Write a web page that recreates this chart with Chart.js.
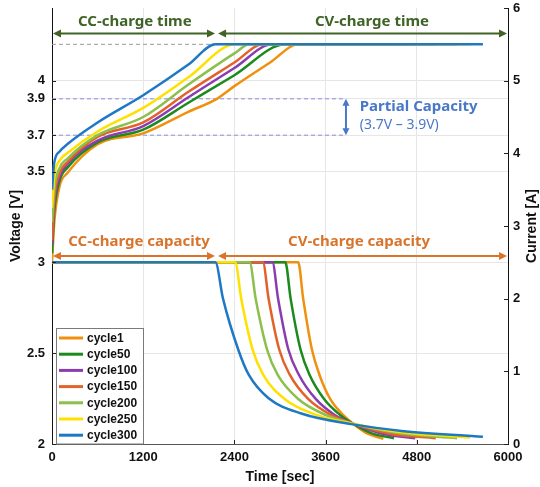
<!DOCTYPE html>
<html>
<head>
<meta charset="utf-8">
<script src="https://cdn.jsdelivr.net/npm/chart.js@4.4.1/dist/chart.umd.min.js"></script>
<style>
  html, body { margin: 0; padding: 0; background: #fff; }
  #wrap { width: 540px; height: 487px; }
</style>
</head>
<body>
<div id="wrap"><canvas id="chart" width="540" height="487"></canvas></div>
<script>
// cycles, legend order
const cycleLabels = ['cycle1', 'cycle50', 'cycle100', 'cycle150', 'cycle200', 'cycle250', 'cycle300'];
const cycleColors = ['#F0900F', '#1C8A1C', '#8B3DAF', '#E2622A', '#8CBF4C', '#FFE100', '#1F78C4'];

// voltage [V] vs time [sec]
const voltCycle1   = [[0,3.00],[30,3.22],[100,3.42],[200,3.49],[600,3.65],[1200,3.71],[1800,3.83],[2170,3.90],[2400,3.97],[2870,4.10],[3240,4.20],[4360,4.20]];
const voltCycle50  = [[0,3.05],[30,3.28],[100,3.45],[200,3.52],[600,3.66],[1200,3.73],[1800,3.88],[2400,4.03],[3070,4.20],[4500,4.20]];
const voltCycle100 = [[0,3.10],[30,3.32],[100,3.47],[200,3.54],[600,3.67],[1200,3.75],[1800,3.91],[2400,4.07],[2900,4.20],[4780,4.20]];
const voltCycle150 = [[0,3.12],[30,3.35],[100,3.49],[200,3.55],[600,3.69],[1200,3.77],[1800,3.94],[2400,4.10],[2775,4.20],[5050,4.20]];
const voltCycle200 = [[0,3.22],[30,3.40],[100,3.52],[200,3.57],[600,3.70],[1200,3.80],[1800,3.98],[2400,4.15],[2600,4.20],[5330,4.20]];
const voltCycle250 = [[0,3.30],[30,3.47],[100,3.56],[200,3.60],[600,3.72],[1200,3.85],[1800,4.02],[2410,4.20],[5500,4.20]];
const voltCycle300 = [[0,3.40],[30,3.55],[100,3.61],[200,3.65],[600,3.77],[1200,3.92],[1800,4.09],[2150,4.20],[5670,4.20]];

// current [A] vs time [sec]
const currCycle1   = [[0,2.5],[3240,2.5],[3305,2.0],[3420,1.3],[3520,0.95],[3660,0.62],[3830,0.40],[3960,0.28],[4120,0.16],[4360,0.07]];
const currCycle50  = [[0,2.5],[3070,2.5],[3140,2.0],[3270,1.3],[3390,0.95],[3580,0.62],[3790,0.40],[3960,0.28],[4200,0.15],[4500,0.08]];
const currCycle100 = [[0,2.5],[2900,2.5],[2975,2.0],[3110,1.3],[3250,0.95],[3470,0.62],[3720,0.40],[3960,0.28],[4350,0.14],[4780,0.08]];
const currCycle150 = [[0,2.5],[2775,2.5],[2850,2.0],[2990,1.3],[3130,0.95],[3370,0.62],[3670,0.40],[3960,0.28],[4450,0.14],[5050,0.08]];
const currCycle200 = [[0,2.5],[2600,2.5],[2680,2.0],[2830,1.3],[2970,0.95],[3240,0.62],[3600,0.40],[3960,0.28],[4550,0.15],[5330,0.08]];
const currCycle250 = [[0,2.5],[2410,2.5],[2490,2.0],[2640,1.3],[2780,0.95],[3060,0.62],[3480,0.40],[3960,0.28],[4600,0.16],[5500,0.09]];
const currCycle300 = [[0,2.5],[2150,2.5],[2250,2.0],[2450,1.3],[2590,0.95],[2850,0.63],[3280,0.42],[3960,0.27],[4600,0.18],[5670,0.10]];

const voltageSeries = [voltCycle1, voltCycle50, voltCycle100, voltCycle150, voltCycle200, voltCycle250, voltCycle300];
const currentSeries = [currCycle1, currCycle50, currCycle100, currCycle150, currCycle200, currCycle250, currCycle300];

const voltTicks = [2, 2.5, 3, 3.5, 3.7, 3.9, 4];
const timeTicks = [0, 1200, 2400, 3600, 4800, 6000];
const currTicks = [0, 1, 2, 3, 4, 5, 6];

const tickFont = { family: 'Liberation Sans, Arial, sans-serif', size: 13, weight: 'bold' };
const titleFont = { family: 'Liberation Sans, Arial, sans-serif', size: 14, weight: 'bold' };
const noteFamily = '"Noto Sans", sans-serif';

const datasets = [];
cycleLabels.forEach(function (label, i) {
  const common = {
    borderColor: cycleColors[i],
    backgroundColor: cycleColors[i],
    borderWidth: 2.5,
    pointRadius: 0,
    fill: false,
    cubicInterpolationMode: 'monotone',
    order: cycleLabels.length - i
  };
  datasets.push(Object.assign({
    label: label,
    yAxisID: 'y',
    data: voltageSeries[i].map(p => ({ x: p[0], y: p[1] }))
  }, common));
  datasets.push(Object.assign({
    label: label + ' current',
    yAxisID: 'y1',
    data: currentSeries[i].map(p => ({ x: p[0], y: p[1] }))
  }, common));
});

function arrowHead(ctx, x, y, dir, color) {
  // dir: 'l', 'r', 'u', 'd'
  ctx.fillStyle = color;
  ctx.beginPath();
  if (dir === 'r') { ctx.moveTo(x, y); ctx.lineTo(x - 8, y - 4); ctx.lineTo(x - 8, y + 4); }
  if (dir === 'l') { ctx.moveTo(x, y); ctx.lineTo(x + 8, y - 4); ctx.lineTo(x + 8, y + 4); }
  if (dir === 'u') { ctx.moveTo(x, y); ctx.lineTo(x - 3.5, y + 7); ctx.lineTo(x + 3.5, y + 7); }
  if (dir === 'd') { ctx.moveTo(x, y); ctx.lineTo(x - 3.5, y - 7); ctx.lineTo(x + 3.5, y - 7); }
  ctx.closePath();
  ctx.fill();
}

function hArrow(ctx, x1, x2, y, color) {
  ctx.strokeStyle = color;
  ctx.lineWidth = 2;
  ctx.beginPath();
  ctx.moveTo(x1 + 4, y);
  ctx.lineTo(x2 - 4, y);
  ctx.stroke();
  arrowHead(ctx, x1, y, 'l', color);
  arrowHead(ctx, x2, y, 'r', color);
}

function noPad(s) {
  s.paddingTop = 0; s.paddingBottom = 0; s.paddingLeft = 0; s.paddingRight = 0;
}

const notesPlugin = {
  id: 'notes',
  beforeDatasetsDraw(chart) {
    const ctx = chart.ctx;
    const x = chart.scales.x, y = chart.scales.y;
    ctx.save();
    ctx.lineWidth = 1;
    ctx.setLineDash([4, 3]);
    ctx.strokeStyle = '#9a9a9a';
    ctx.beginPath();
    ctx.moveTo(x.getPixelForValue(0), y.getPixelForValue(4.2));
    ctx.lineTo(x.getPixelForValue(2150), y.getPixelForValue(4.2));
    ctx.stroke();
    ctx.strokeStyle = '#8c8ce0';
    [3.7, 3.9].forEach(function (v) {
      ctx.beginPath();
      ctx.moveTo(x.getPixelForValue(0), y.getPixelForValue(v));
      ctx.lineTo(x.getPixelForValue(3850), y.getPixelForValue(v));
      ctx.stroke();
    });
    ctx.restore();
  },
  afterDatasetsDraw(chart) {
    const ctx = chart.ctx;
    const x = chart.scales.x, y = chart.scales.y;
    const area = chart.chartArea;
    ctx.save();

    // charge time arrows
    const green = '#3F6426';
    const gy = y.getPixelForValue(4.26);
    hArrow(ctx, x.getPixelForValue(0) + 1, x.getPixelForValue(2145), gy, green);
    hArrow(ctx, x.getPixelForValue(2185), area.right - 1, gy, green);
    ctx.fillStyle = green;
    ctx.font = 'bold 15px ' + noteFamily;
    ctx.textAlign = 'center';
    ctx.textBaseline = 'middle';
    ctx.fillText('CC-charge time', x.getPixelForValue(1090), y.getPixelForValue(4.323));
    ctx.fillText('CV-charge time', x.getPixelForValue(4210), y.getPixelForValue(4.323));

    // charge capacity arrows
    const orange = '#D9742C';
    const oy = y.getPixelForValue(3.035);
    hArrow(ctx, x.getPixelForValue(0) + 1, x.getPixelForValue(2145), oy, orange);
    hArrow(ctx, x.getPixelForValue(2185), area.right - 1, oy, orange);
    ctx.fillStyle = orange;
    ctx.fillText('CC-charge capacity', x.getPixelForValue(1145), y.getPixelForValue(3.112));
    ctx.fillText('CV-charge capacity', x.getPixelForValue(4040), y.getPixelForValue(3.112));

    // partial capacity
    const blue = '#4A78C8';
    const ax = x.getPixelForValue(3868);
    const ay1 = y.getPixelForValue(3.9), ay2 = y.getPixelForValue(3.7);
    ctx.strokeStyle = blue;
    ctx.lineWidth = 2;
    ctx.beginPath();
    ctx.moveTo(ax, ay1 + 4);
    ctx.lineTo(ax, ay2 - 4);
    ctx.stroke();
    arrowHead(ctx, ax, ay1, 'u', blue);
    arrowHead(ctx, ax, ay2, 'd', blue);
    ctx.fillStyle = blue;
    ctx.textAlign = 'left';
    ctx.fillText('Partial Capacity', x.getPixelForValue(4050), y.getPixelForValue(3.855));
    ctx.font = '14px ' + noteFamily;
    ctx.fillText('(3.7V \u2013 3.9V)', x.getPixelForValue(4050), y.getPixelForValue(3.756));

    // inward tick marks
    ctx.strokeStyle = '#222';
    ctx.lineWidth = 1;
    ctx.beginPath();
    voltTicks.forEach(function (v) {
      const py = Math.round(y.getPixelForValue(v)) + 0.5;
      ctx.moveTo(area.left, py); ctx.lineTo(area.left + 4, py);
    });
    currTicks.forEach(function (v) {
      const py = Math.round(chart.scales.y1.getPixelForValue(v)) + 0.5;
      ctx.moveTo(area.right, py); ctx.lineTo(area.right - 4, py);
    });
    timeTicks.forEach(function (v) {
      const px = Math.round(x.getPixelForValue(v)) + 0.5;
      ctx.moveTo(px, area.bottom); ctx.lineTo(px, area.bottom - 4);
    });
    ctx.stroke();
    ctx.restore();
  },
  afterDraw(chart) {
    const ctx = chart.ctx;
    const area = chart.chartArea;
    ctx.save();

    // right axis title, reading bottom to top
    ctx.font = 'bold 14px Liberation Sans, Arial, sans-serif';
    ctx.fillStyle = '#111';
    ctx.textAlign = 'center';
    ctx.textBaseline = 'middle';
    ctx.translate(532, (area.top + area.bottom) / 2);
    ctx.rotate(-Math.PI / 2);
    ctx.fillText('Current [A]', 0, 0);
    ctx.setTransform(1, 0, 0, 1, 0, 0);

    // legend box, bottom-left inside plot
    const left = area.left + 4, bottom = area.bottom;
    const w = 87, rowH = 16.2, h = 116;
    ctx.fillStyle = '#fff';
    ctx.fillRect(left, bottom - h, w, h);
    ctx.strokeStyle = '#7a7a7a';
    ctx.lineWidth = 1;
    ctx.strokeRect(left + 0.5, bottom - h + 0.5, w, h - 0.5);
    ctx.font = 'bold 12px Liberation Sans, Arial, sans-serif';
    ctx.textBaseline = 'middle';
    ctx.textAlign = 'left';
    cycleLabels.forEach(function (label, i) {
      const ry = bottom - h + 10 + i * rowH;
      ctx.strokeStyle = cycleColors[i];
      ctx.lineWidth = 3;
      ctx.beginPath();
      ctx.moveTo(left + 3, ry);
      ctx.lineTo(left + 27, ry);
      ctx.stroke();
      ctx.fillStyle = '#111';
      ctx.fillText(label, left + 31, ry + 0.5);
    });
    ctx.restore();
  }
};

new Chart(document.getElementById('chart'), {
  type: 'line',
  data: { datasets: datasets },
  options: {
    responsive: false,
    animation: false,
    events: [],
    layout: { padding: { top: 8, left: 0, right: 0, bottom: 0 } },
    plugins: {
      legend: { display: false },
      tooltip: { enabled: false }
    },
    scales: {
      x: {
        type: 'linear',
        min: 0,
        max: 6000,
        afterBuildTicks: s => { s.ticks = timeTicks.map(v => ({ value: v })); },
        afterFit: s => { s.height = 43; noPad(s); },
        ticks: { font: tickFont, color: '#111', padding: 6, maxRotation: 0, callback: v => String(v) },
        grid: { color: '#e6e6e6', drawTicks: false },
        border: { color: '#555', width: 1 },
        title: { display: true, text: 'Time [sec]', font: titleFont, color: '#111', padding: { top: 0, bottom: 1 } }
      },
      y: {
        type: 'linear',
        position: 'left',
        min: 2,
        max: 4.4,
        afterBuildTicks: s => { s.ticks = voltTicks.map(v => ({ value: v })); },
        afterFit: s => { s.width = 52; noPad(s); },
        ticks: { font: tickFont, color: '#111', padding: 7, callback: v => String(v) },
        grid: { color: '#e6e6e6', drawTicks: false },
        border: { color: '#111', width: 1 },
        title: { display: true, text: 'Voltage [V]', font: titleFont, color: '#111', padding: { top: 8, bottom: 0 } }
      },
      y1: {
        type: 'linear',
        position: 'right',
        min: 0,
        max: 6,
        afterBuildTicks: s => { s.ticks = currTicks.map(v => ({ value: v })); },
        afterFit: s => { s.width = 32; noPad(s); },
        ticks: { font: tickFont, color: '#111', padding: 5, callback: v => String(v) },
        grid: { drawOnChartArea: false, drawTicks: false },
        border: { color: '#111', width: 1 },
        title: { display: false }
      }
    }
  },
  plugins: [notesPlugin]
});
</script>
</body>
</html>
